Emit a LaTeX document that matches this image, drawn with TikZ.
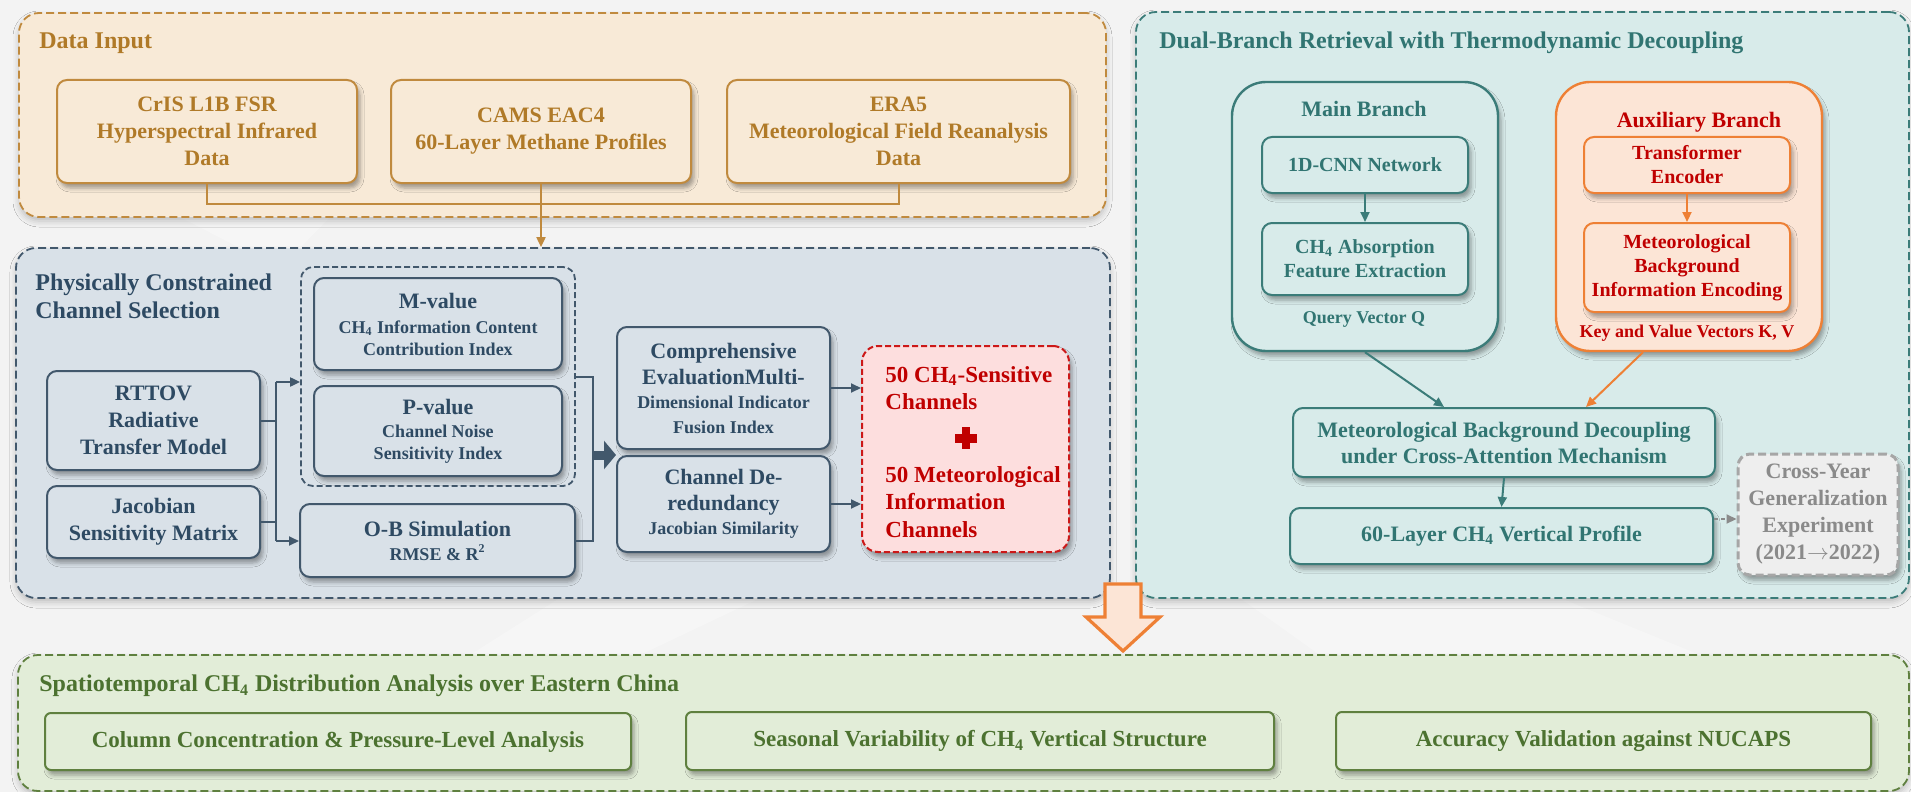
\documentclass[tikz,border=0pt]{standalone}
\usepackage{fontspec}
\setmainfont{Liberation Serif}
\usetikzlibrary{arrows.meta,shadows.blur,calc}

% palette
\definecolor{bgc}{HTML}{F3F3F3}
\definecolor{inFill}{HTML}{F8EAD7}
\definecolor{inLine}{HTML}{C08A3E}
\definecolor{inText}{HTML}{B07A28}
\definecolor{pcFill}{HTML}{D9E1E8}
\definecolor{pcLine}{HTML}{42586C}
\definecolor{pcText}{HTML}{2E4A63}
\definecolor{dbFill}{HTML}{D8EBEA}
\definecolor{dbLine}{HTML}{3B7C79}
\definecolor{dbText}{HTML}{317572}
\definecolor{axFill}{HTML}{FCE5D6}
\definecolor{axLine}{HTML}{EE8035}
\definecolor{redText}{HTML}{C00000}
\definecolor{rdFill}{HTML}{FDDEDE}
\definecolor{rdLine}{HTML}{CC1818}
\definecolor{gyFill}{HTML}{EEEEEE}
\definecolor{gyLine}{HTML}{A6A6A6}
\definecolor{gyText}{HTML}{8A8A8A}
\definecolor{grFill}{HTML}{E2EDD8}
\definecolor{grLine}{HTML}{5F803F}
\definecolor{grText}{HTML}{4C7230}

% type sizes
\newcommand\fTitle{\fontsize{12}{14}\selectfont\bfseries}
\newcommand\fHead{\fontsize{11}{13.5}\selectfont\bfseries}
\newcommand\fMid{\fontsize{10}{12}\selectfont\bfseries}
\newcommand\fSmall{\fontsize{9}{11}\selectfont\bfseries}
\newcommand\fBottom{\fontsize{11.5}{14}\selectfont\bfseries}
\newcommand\fRed{\fontsize{11.5}{13.6}\selectfont\bfseries}
\newcommand\chf{CH\textsubscript{4}}

% box from its corner coordinates: name, x1, y1, x2, y2, style, text
\newcommand\pbox[7]{\node[#6, minimum width={(#4-#2)*0.5pt}, minimum height={(#5-#3)*0.5pt}] (#1) at ({(#2+#4)/2},{(#3+#5)/2}) {#7};}

\tikzset{
  panel/.style={rounded corners=10pt, dash pattern=on 4pt off 2pt, line width=0.9pt, inner sep=0pt,
    blur shadow={shadow xshift=0pt, shadow yshift=-2pt, shadow opacity=22, shadow blur radius=3pt}},
  box/.style={rounded corners=5pt, line width=1pt, align=center, inner sep=0pt,
    blur shadow={shadow xshift=1.5pt, shadow yshift=-2.5pt, shadow opacity=35, shadow blur radius=2pt}},
  inBox/.style={box, draw=inLine, fill=inFill, text=inText, font=\fHead},
  pcBox/.style={box, draw=pcLine, fill=pcFill, text=pcText, font=\fHead},
  dbBox/.style={box, draw=dbLine, fill=dbFill, text=dbText, font=\fMid},
  axBox/.style={box, draw=axLine, fill=axFill, text=redText, font=\fMid},
  grBox/.style={box, draw=grLine, fill=grFill, text=grText, font=\fBottom, rounded corners=3pt},
  label/.style={inner sep=0pt, align=center},
  arr/.style={-{Triangle[length=5pt,width=4.5pt]}},
  conn/.style={line width=1pt},
}

\begin{document}
\begin{tikzpicture}[x=0.5pt,y=-0.5pt]
\useasboundingbox (0,0) rectangle (1911,792);
\fill[bgc] (0,0) rectangle (1911,792);
% faint light facets in the backdrop
\fill[white,opacity=0.5] (1330,0) arc[start angle=180,end angle=360,radius=160] -- cycle;
\fill[white,opacity=0.3] (560,598) -- (760,598) -- (640,655) -- (470,655) -- cycle;
\fill[white,opacity=0.3] (1240,598) -- (1560,598) -- (1700,655) -- (1320,655) -- cycle;
\fill[white,opacity=0.3] (180,217) -- (330,217) -- (300,248) -- (240,248) -- cycle;

% ---------- Data Input ----------
\pbox{pIn}{19}{13}{1106}{217}{panel, draw=inLine, fill=inFill}{}
\node[label, anchor=west, text=inText, font=\fTitle] (tIn) at (39,43) {Data Input};
\pbox{cris}{57}{80}{357}{183}{inBox}{CrIS L1B FSR\\Hyperspectral Infrared\\Data}
\pbox{cams}{391}{80}{691}{183}{inBox}{CAMS EAC4\\60-Layer Methane Profiles}
\pbox{era}{727}{80}{1070}{183}{inBox}{ERA5\\Meteorological Field Reanalysis\\Data}
\draw[conn, inLine] (cris.south) -- ++(0,20) -| (era.south);

% ---------- Physically Constrained Channel Selection ----------
\pbox{pPc}{16}{248}{1110}{598}{panel, draw=pcLine, fill=pcFill}{}
\draw[conn, inLine, arr] (cams.south) -- (cams.south |- pPc.north);
\node[label, anchor=west, align=left, text=pcText, font=\fTitle] (tPc) at (35,296) {Physically Constrained\\Channel Selection};

\pbox{grp}{301}{267}{575}{486}{rounded corners=6pt, draw=pcLine, line width=0.9pt, dash pattern=on 3pt off 1.5pt}{}
\pbox{mval}{314}{278}{562}{370}{pcBox, font=\fSmall}{{\fHead M-value}\\[1.5pt]\chf{} Information Content\\Contribution Index}
\pbox{pval}{314}{386}{562}{476}{pcBox, font=\fSmall}{{\fHead P-value}\\[0.5pt]Channel Noise\\Sensitivity Index}
\pbox{rttov}{47}{371}{260}{470}{pcBox}{RTTOV\\Radiative\\Transfer Model}
\pbox{jac}{47}{486}{260}{558}{pcBox}{Jacobian\\Sensitivity Matrix}
\pbox{ob}{300}{504}{575}{577}{pcBox, font=\fSmall}{{\fHead O-B Simulation}\\[1pt]RMSE \& R\textsuperscript{2}}
\pbox{comp}{617}{327}{830}{449}{pcBox, font=\fSmall}{{\fHead Comprehensive}\\[2pt]{\fHead EvaluationMulti-}\\[1pt]Dimensional Indicator\\[1.5pt]Fusion Index}
\pbox{dered}{617}{456}{830}{552}{pcBox, font=\fSmall}{{\fHead Channel De-}\\[2pt]{\fHead redundancy}\\[1pt]Jacobian Similarity}
\pbox{red}{862}{346}{1069}{552}{box, rounded corners=8pt, draw=rdLine, fill=rdFill, dash pattern=on 3pt off 1.5pt}{}
\node[label, anchor=west, align=left, text=redText, font=\fRed] (redA) at (885,388) {50 \chf-Sensitive\\Channels};
\node[label, anchor=west, align=left, text=redText, font=\fRed] (redB) at (885,502) {50 Meteorological\\Information\\Channels};
\fill[redText] (962,427) rectangle (970,449);
\fill[redText] (955,433.5) rectangle (977,442.5);

\coordinate (jnA) at (276,382);
\coordinate (jnB) at (276,541);
\draw[conn, pcLine] (rttov.east) -- (rttov.east -| jnA);
\draw[conn, pcLine] (jac.east) -- (jac.east -| jnA);
\draw[conn, pcLine] (jnA) -- (jnB);
\draw[conn, pcLine, arr] (jnA) -- (jnA -| grp.west);
\draw[conn, pcLine, arr] (jnB) -- (jnB -| ob.west);
\coordinate (jnC) at (593,455);
\draw[conn, pcLine] (grp.east) -- (grp.east -| jnC) -- (ob.east -| jnC) -- (ob.east);
\draw[pcLine, line width=4.5pt, -{Triangle[length=6pt,width=14pt]}] (jnC) -- (jnC -| comp.west);
\draw[conn, pcLine, arr] (comp.east) -- (comp.east -| red.west);
\draw[conn, pcLine, arr] (dered.east) -- (dered.east -| red.west);

% ---------- Dual-Branch Retrieval ----------
\pbox{pDb}{1136}{12}{1909}{598}{panel, draw=dbLine, fill=dbFill}{}
\node[label, anchor=west, text=dbText, font=\fTitle] (tDb) at (1159,43) {Dual-Branch Retrieval with Thermodynamic Decoupling};

\pbox{mainOut}{1232}{82}{1498}{351}{box, rounded corners=17pt, line width=1.2pt, draw=dbLine, fill=dbFill}{}
\node[label, text=dbText, font=\fHead] (mainT) at (1364,109) {Main Branch};
\pbox{cnn}{1262}{137}{1468}{193}{dbBox}{1D-CNN Network}
\pbox{absx}{1262}{223}{1468}{295}{dbBox}{\chf{} Absorption\\Feature Extraction}
\node[label, text=dbText, font=\fSmall] (qv) at (1364,319) {Query Vector Q};
\draw[conn, dbLine, arr] (cnn.south) -- (absx.north);

\pbox{auxOut}{1556}{82}{1822}{351}{box, rounded corners=17pt, line width=1.2pt, draw=axLine, fill=axFill}{}
\node[label, text=redText, font=\fHead] (auxT) at (1699,122) {Auxiliary Branch};
\pbox{trans}{1584}{137}{1790}{193}{axBox}{Transformer\\Encoder}
\pbox{metenc}{1584}{223}{1790}{312}{axBox}{Meteorological\\Background\\Information Encoding}
\node[label, text=redText, font=\fSmall] (kv) at (1687,333) {Key and Value Vectors K, V};
\draw[conn, axLine, arr] (trans.south) -- (metenc.north);

\pbox{decoup}{1293}{408}{1715}{477}{dbBox, font=\fHead}{Meteorological Background Decoupling\\[-0.5pt]under Cross-Attention Mechanism}
\pbox{prof}{1290}{508}{1713}{564}{dbBox, font=\fHead}{60-Layer \chf{} Vertical Profile}
\pbox{cross}{1738}{454}{1898}{575}{box, rounded corners=6pt, line width=1.5pt, dash pattern=on 4pt off 2pt, draw=gyLine, fill=gyFill, text=gyText, font=\fHead}{Cross-Year\\Generalization\\Experiment\\(2021$\rightarrow$2022)}

\draw[conn, dbLine, arr] (mainOut.south) -- ([xshift=-30pt]decoup.north);
\draw[conn, axLine, arr] ([xshift=-23pt]auxOut.south) -- ([xshift=41pt]decoup.north);
\draw[conn, dbLine, arr] (decoup.south) -- (prof.north);
\coordinate (prOut) at ([yshift=8.5pt]prof.east);
\draw[conn, gyText, dash pattern=on 2pt off 1.5pt, arr] (prOut) -- (prOut -| cross.west);

% ---------- Spatiotemporal analysis ----------
\pbox{pGr}{18}{655}{1909}{791}{panel, draw=grLine, fill=grFill}{}
\node[label, anchor=west, text=grText, font=\fTitle] (tGr) at (39,686) {Spatiotemporal \chf{} Distribution Analysis over Eastern China};
\pbox{colc}{45}{713}{631}{770}{grBox}{Column Concentration \& Pressure-Level Analysis}
\pbox{seas}{686}{712}{1274}{770}{grBox}{Seasonal Variability of \chf{} Vertical Structure}
\pbox{accv}{1336}{712}{1871}{770}{grBox}{Accuracy Validation against NUCAPS}

% hollow arrow from the upper stages down to the analysis
\draw[axLine, fill=axFill, line width=1.6pt, line join=miter]
  (1105,584) -- (1141,584) -- (1141,617) -- (1160,617) -- (1123,651) -- (1086,617) -- (1105,617) -- cycle;
\end{tikzpicture}
\end{document}
